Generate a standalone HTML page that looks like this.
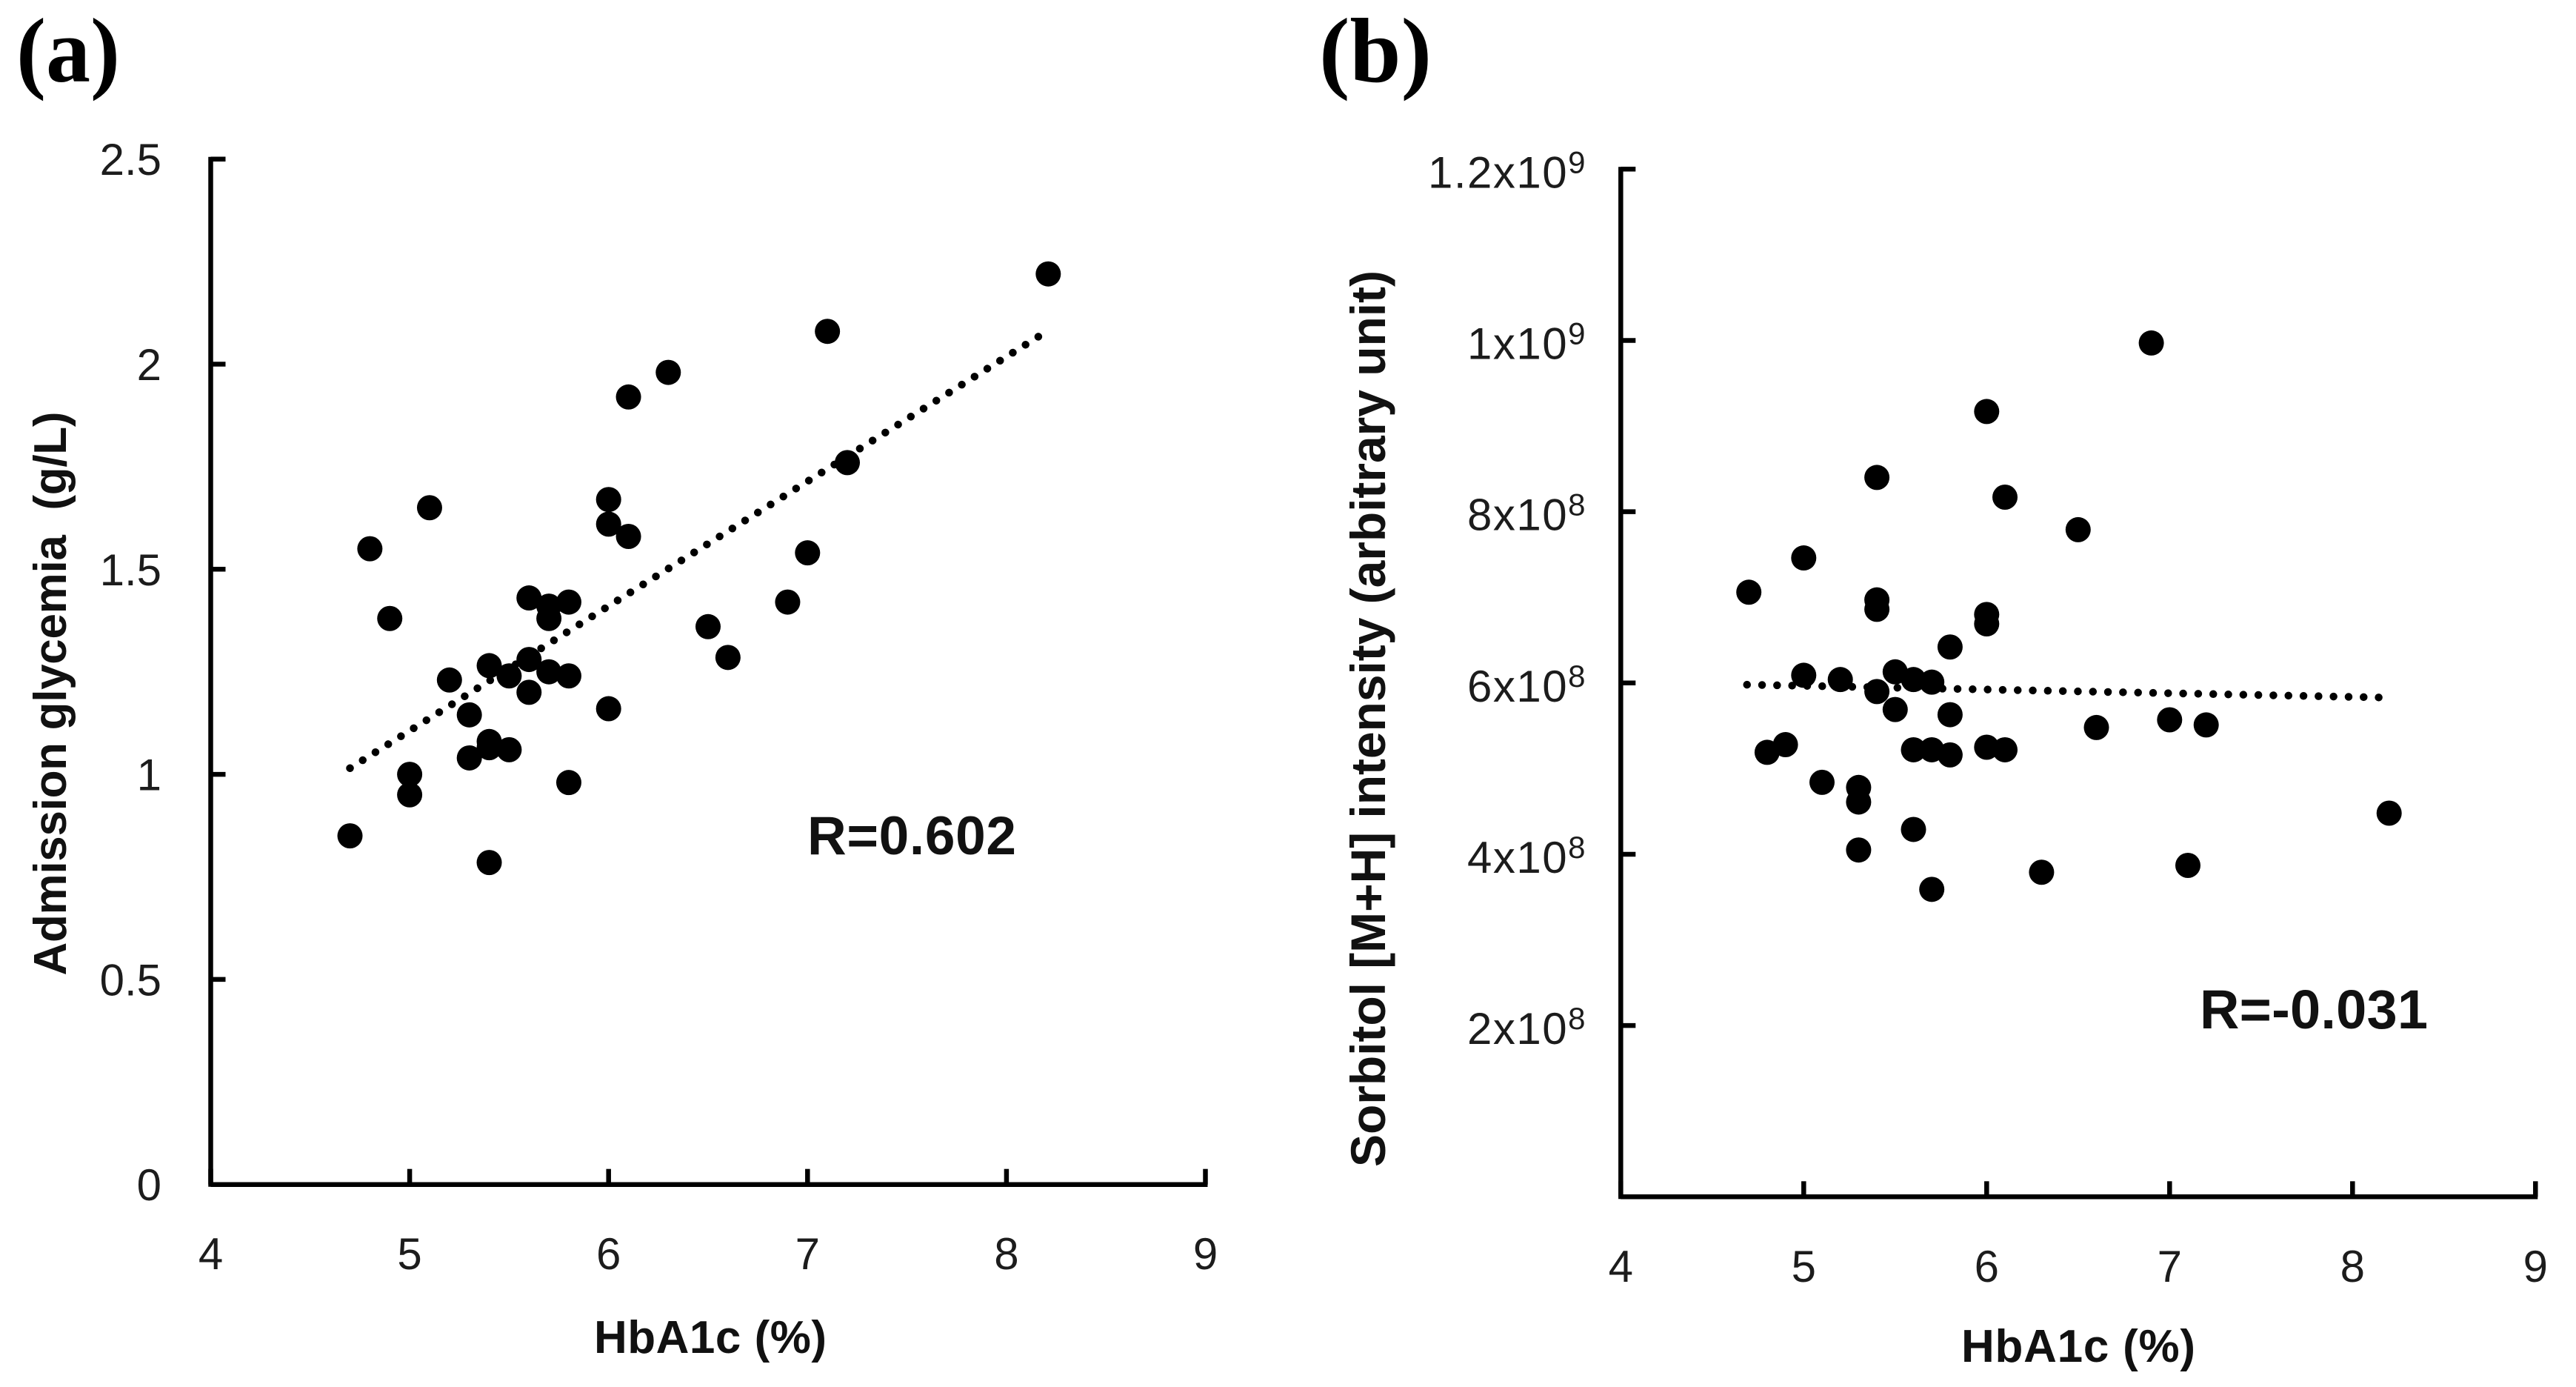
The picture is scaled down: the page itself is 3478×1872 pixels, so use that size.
<!DOCTYPE html>
<html lang="en">
<head>
<meta charset="utf-8">
<title>HbA1c correlation charts</title>
<style>
html,body{margin:0;padding:0;background:#fff;width:3478px;height:1872px;overflow:hidden}
svg{display:block}
text{font-family:"Liberation Sans",sans-serif;fill:#000}
.tick{font-size:60px;fill:#1c1c1c}
.title{font-size:62px;font-weight:bold;fill:#111}
.panel{font-family:"Liberation Serif",serif;font-size:124px;font-weight:bold}
.rval{font-weight:bold;fill:#111}
</style>
</head>
<body>
<svg id="chart" xmlns="http://www.w3.org/2000/svg" width="3478" height="1872" viewBox="0 0 3478 1872">
  <rect x="0" y="0" width="3478" height="1872" fill="#fff"/>
  <text class="panel" x="22" y="110" textLength="140" lengthAdjust="spacingAndGlyphs">(a)</text>
  <text class="panel" x="1781" y="110" textLength="152" lengthAdjust="spacingAndGlyphs">(b)</text>
  <g id="panel-a"></g>
  <g id="panel-b"></g>
  <text class="title" x="959" y="1826" text-anchor="middle" textLength="314" lengthAdjust="spacing">HbA1c (%)</text>
  <text class="title" x="2806" y="1838" text-anchor="middle" textLength="316" lengthAdjust="spacing">HbA1c (%)</text>
  <text class="title" transform="translate(89,936) rotate(-90)" text-anchor="middle" textLength="761" lengthAdjust="spacing">Admission glycemia&#160;&#160;(g/L)</text>
  <text class="title" style="font-size:66px" transform="translate(1870,970) rotate(-90)" text-anchor="middle" textLength="1210" lengthAdjust="spacing">Sorbitol [M+H] intensity (arbitrary unit)</text>
  <text class="rval" style="font-size:73px" x="1090" y="1153" textLength="282" lengthAdjust="spacing">R=0.602</text>
  <text class="rval" style="font-size:74px" x="2970" y="1388" textLength="308" lengthAdjust="spacing">R=-0.031</text>
</svg>
<script>
const xTicks = [4, 5, 6, 7, 8, 9];

const aYTicks = [0, 0.5, 1, 1.5, 2, 2.5];
const aYLabels = ["0", "0.5", "1", "1.5", "2", "2.5"];
const aHbA1c = [8.21, 7.1, 6.3, 6.1, 7.2, 6.0, 5.1, 6.0, 6.1, 4.8, 7.0, 5.6, 5.8, 6.9, 5.7, 5.7, 4.9, 6.5, 6.6, 5.6, 5.4, 5.7, 5.5, 5.8, 5.2, 5.6, 6.0, 5.3, 5.4, 5.4, 5.5, 5.3, 5.0, 5.8, 5.0, 4.7, 5.4];
const aGlycemia = [2.22, 2.08, 1.98, 1.92, 1.76, 1.67, 1.65, 1.61, 1.58, 1.55, 1.54, 1.43, 1.42, 1.42, 1.41, 1.38, 1.38, 1.36, 1.285, 1.28, 1.265, 1.25, 1.24, 1.24, 1.23, 1.20, 1.16, 1.145, 1.08, 1.065, 1.06, 1.04, 1.00, 0.98, 0.95, 0.85, 0.785];
const aTrendX = [4.7, 8.17];
const aTrendY = [1.015, 2.07];

const bYTicks = [0, 2e8, 4e8, 6e8, 8e8, 1e9, 1.2e9];
const bYLabels = ["", "2x10", "4x10", "6x10", "8x10", "1x10", "1.2x10"];
const bYExponents = ["", "8", "8", "8", "8", "9", "9"];
const bHbA1c = [6.9, 6.0, 5.4, 6.1, 6.5, 5.0, 4.7, 5.4, 5.4, 6.0, 6.0, 5.8, 5.5, 5.0, 5.6, 5.2, 5.7, 5.4, 5.5, 5.8, 7.0, 7.2, 6.6, 4.9, 6.0, 5.6, 5.7, 6.1, 4.8, 5.8, 5.1, 5.3, 5.3, 8.2, 5.6, 5.3, 7.1, 6.3, 5.7];
const bSorbitol = [9.97e8, 9.17e8, 8.4e8, 8.17e8, 7.79e8, 7.46e8, 7.06e8, 6.97e8, 6.86e8, 6.8e8, 6.69e8, 6.42e8, 6.13e8, 6.09e8, 6.04e8, 6.04e8, 6.01e8, 5.9e8, 5.69e8, 5.63e8, 5.57e8, 5.51e8, 5.48e8, 5.28e8, 5.25e8, 5.22e8, 5.22e8, 5.22e8, 5.19e8, 5.16e8, 4.84e8, 4.78e8, 4.61e8, 4.48e8, 4.29e8, 4.05e8, 3.87e8, 3.79e8, 3.59e8];
const bTrendX = [4.69, 8.17];
const bTrendY = [5.98e8, 5.83e8];

const NS = "http://www.w3.org/2000/svg";

function scaleLinear(d0, d1, r0, r1) {
  return function (v) { return r0 + (v - d0) * (r1 - r0) / (d1 - d0); };
}

function make(parent, tag, attrs) {
  const el = document.createElementNS(NS, tag);
  Object.keys(attrs).forEach(function (k) { el.setAttribute(k, attrs[k]); });
  parent.appendChild(el);
  return el;
}

function drawAxes(g, sx, sy, yTicks, xLabelBaseline, xAxisY, xAxisLeft) {
  const xMax = xTicks[xTicks.length - 1];
  const yMax = yTicks[yTicks.length - 1];
  const yAxis = make(g, "line", {x1: xAxisLeft, x2: xAxisLeft, y1: sy(yMax) - 3, y2: xAxisY + 3, stroke: "#000", "stroke-width": 6.5});
  
  
  const xAxis = make(g, "line", {x1: xAxisLeft, x2: sx(xMax) + 3, y1: xAxisY, y2: xAxisY, stroke: "#000", "stroke-width": 6.5});
  
  
  xTicks.forEach(function (t) {
    const tick = make(g, "line", {x1: sx(t), x2: sx(t), y1: xAxisY, y2: xAxisY - 21, stroke: "#000", "stroke-width": 6.5});
    
    
    const label = make(g, "text", {x: sx(t), y: xLabelBaseline, "text-anchor": "middle", "class": "tick"});
    
    
    label.textContent = String(t);
  });
  yTicks.forEach(function (t) {
    const tick = make(g, "line", {x1: xAxisLeft, x2: xAxisLeft + 20, y1: sy(t), y2: sy(t), stroke: "#000", "stroke-width": 6.5});
    
    
  });
}

function drawSeries(g, sx, sy, xs, ys, tx, ty) {
  const trend = make(g, "line", {x1: sx(tx[0]), y1: sy(ty[0]), x2: sx(tx[1]), y2: sy(ty[1]), stroke: "#000", "stroke-width": 10.5, "stroke-linecap": "round", "stroke-dasharray": "0.01 20.3"});
  
  
  xs.forEach(function (x, i) {
    const dot = make(g, "circle", {cx: sx(x), cy: sy(ys[i]), r: 17, fill: "#000"});
    
    
  });
}

/* Panel (a) */
const gA = document.getElementById("panel-a");
const axA = scaleLinear(4, 9, 284.5, 1627.5);
const ayA = scaleLinear(0, 2.5, 1598.7, 214.7);
drawAxes(gA, axA, ayA, aYTicks, 1713, 1598.7, 284.5);
aYTicks.forEach(function (t, i) {
  const label = make(gA, "text", {x: 218, y: ayA(t) + 21.5, "text-anchor": "end", "class": "tick"});
  
  
  label.textContent = aYLabels[i];
});
drawSeries(gA, axA, ayA, aHbA1c, aGlycemia, aTrendX, aTrendY);

/* Panel (b) */
const gB = document.getElementById("panel-b");
const axB = scaleLinear(4, 9, 2188.3, 3423.3);
const ayB = scaleLinear(0, 1.2e9, 1615.3, 228.3);
drawAxes(gB, axB, ayB, bYTicks, 1730, 1615.3, 2188.3);
bYTicks.forEach(function (t, i) {
  if (!bYLabels[i]) { return; }
  const label = make(gB, "text", {x: 2142, y: ayB(t) + 25, "text-anchor": "end", "class": "tick", "letter-spacing": "1.5"});
  
  
  const base = make(label, "tspan", {});
  base.textContent = bYLabels[i];
  const sup = make(label, "tspan", {dy: "-20", "font-size": "42"});
  sup.textContent = bYExponents[i];
});
drawSeries(gB, axB, ayB, bHbA1c, bSorbitol, bTrendX, bTrendY);
</script>
</body>
</html>
